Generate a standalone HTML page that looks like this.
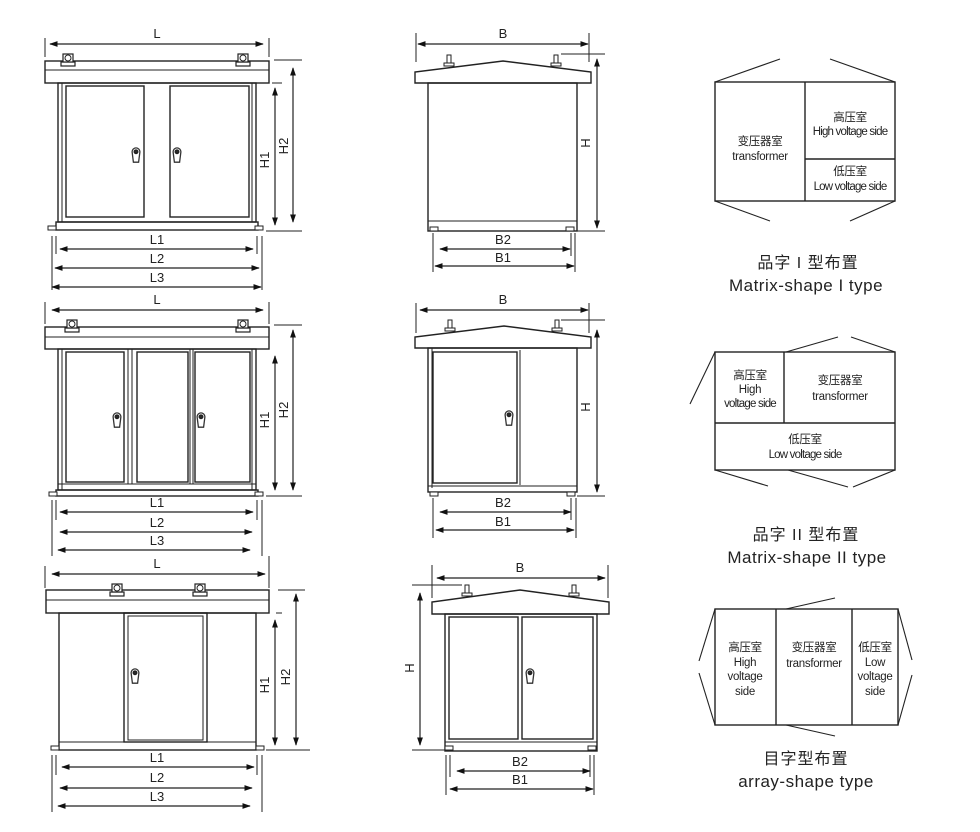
<!DOCTYPE html>
<html><head><meta charset="utf-8"><style>
html,body{margin:0;padding:0;background:#fff;}
svg{display:block;}
text{font-family:"Liberation Sans","Noto Sans CJK SC",sans-serif;fill:#222;}
</style></head><body>
<svg width="980" height="832" viewBox="0 0 980 832" xmlns="http://www.w3.org/2000/svg">
<defs>
<marker id="a" viewBox="0 0 10 10" refX="9" refY="5" markerWidth="7" markerHeight="7" orient="auto-start-reverse"><path d="M0,1.5 L10,5 L0,8.5z" fill="#111"/></marker>
<g id="lug"><rect x="-7" y="0" width="14" height="4" fill="#fff" stroke="#222" stroke-width="1.2"/><rect x="-5" y="-8" width="10" height="8" fill="#fff" stroke="#222" stroke-width="1.2"/><circle cx="0" cy="-4" r="3" fill="none" stroke="#222" stroke-width="1"/></g>
<g id="bolt"><rect x="-5" y="0" width="10" height="3" fill="#fff" stroke="#222" stroke-width="1"/><rect x="-2" y="-8" width="4" height="8" fill="#fff" stroke="#222" stroke-width="1"/></g>
<g id="hd"><g transform="scale(1.3)"><path d="M-3,-4 a3,3 0 1 1 6,0 l-1,8 l-4,0 z" fill="#fff" stroke="#333" stroke-width="1"/><circle cx="0" cy="-4" r="1.2" fill="#333"/></g></g>
<g id="foot"><rect x="-4" y="0" width="8" height="4" fill="#fff" stroke="#222" stroke-width="1"/></g>
</defs>
<g stroke="#222" stroke-width="1.4" fill="none">
<!-- ===== Row1 left ===== -->
<line x1="45" y1="38" x2="45" y2="57" stroke-width="1"/><line x1="269" y1="38" x2="269" y2="57" stroke-width="1"/>
<line x1="50" y1="44" x2="263" y2="44" marker-start="url(#a)" marker-end="url(#a)" stroke-width="1.2"/>
<rect x="45" y="61" width="224" height="22"/><line x1="45" y1="70" x2="269" y2="70" stroke-width="1"/>
<use href="#lug" x="68" y="62"/><use href="#lug" x="243" y="62"/>
<rect x="58" y="83" width="198" height="139"/><line x1="62" y1="83" x2="62" y2="222" stroke-width="1"/><line x1="252" y1="83" x2="252" y2="222" stroke-width="1"/>
<rect x="66" y="86" width="78" height="131"/><rect x="170" y="86" width="79" height="131"/>
<rect x="56" y="222" width="202" height="8"/>
<use href="#foot" x="52" y="226"/><use href="#foot" x="259" y="226"/>
<use href="#hd" x="136" y="157"/><use href="#hd" x="177" y="157"/>
<line x1="275" y1="88" x2="275" y2="225" marker-start="url(#a)" marker-end="url(#a)" stroke-width="1.2"/>
<line x1="293" y1="68" x2="293" y2="222" marker-start="url(#a)" marker-end="url(#a)" stroke-width="1.2"/>
<line x1="274" y1="60" x2="302" y2="60" stroke-width="1"/><line x1="272" y1="83" x2="282" y2="83" stroke-width="1"/><line x1="266" y1="231" x2="302" y2="231" stroke-width="1"/>
<line x1="52" y1="236" x2="52" y2="290" stroke-width="1"/><line x1="56" y1="236" x2="56" y2="254" stroke-width="1"/><line x1="257" y1="236" x2="257" y2="254" stroke-width="1"/><line x1="262" y1="236" x2="262" y2="290" stroke-width="1"/>
<line x1="60" y1="249" x2="253" y2="249" marker-start="url(#a)" marker-end="url(#a)" stroke-width="1.2"/>
<line x1="55" y1="268" x2="259" y2="268" marker-start="url(#a)" marker-end="url(#a)" stroke-width="1.2"/>
<line x1="52" y1="287" x2="261" y2="287" marker-start="url(#a)" marker-end="url(#a)" stroke-width="1.2"/>

<!-- ===== Row2 left ===== -->
<line x1="45" y1="302" x2="45" y2="324" stroke-width="1"/><line x1="269" y1="302" x2="269" y2="324" stroke-width="1"/>
<line x1="52" y1="310" x2="263" y2="310" marker-start="url(#a)" marker-end="url(#a)" stroke-width="1.2"/>
<rect x="45" y="327" width="224" height="22"/><line x1="45" y1="337" x2="269" y2="337" stroke-width="1"/>
<use href="#lug" x="72" y="328"/><use href="#lug" x="243" y="328"/>
<rect x="58" y="349" width="198" height="141"/><line x1="62" y1="349" x2="62" y2="490" stroke-width="1"/><line x1="252" y1="349" x2="252" y2="490" stroke-width="1"/>
<rect x="66" y="352" width="58" height="130"/><rect x="128" y="349" width="4" height="135" stroke-width="1"/><rect x="137" y="352" width="51" height="130"/><rect x="190" y="349" width="3" height="135" stroke-width="1"/><rect x="195" y="352" width="55" height="130"/>
<line x1="58" y1="484" x2="256" y2="484" stroke-width="1"/>
<rect x="56" y="490" width="202" height="6"/>
<use href="#foot" x="53" y="492"/><use href="#foot" x="259" y="492"/>
<use href="#hd" x="117" y="422"/><use href="#hd" x="201" y="422"/>
<line x1="275" y1="356" x2="275" y2="490" marker-start="url(#a)" marker-end="url(#a)" stroke-width="1.2"/>
<line x1="293" y1="330" x2="293" y2="490" marker-start="url(#a)" marker-end="url(#a)" stroke-width="1.2"/>
<line x1="274" y1="325" x2="302" y2="325" stroke-width="1"/><line x1="266" y1="496" x2="302" y2="496" stroke-width="1"/>
<line x1="52" y1="500" x2="52" y2="556" stroke-width="1"/><line x1="56" y1="500" x2="56" y2="520" stroke-width="1"/><line x1="257" y1="500" x2="257" y2="520" stroke-width="1"/><line x1="262" y1="500" x2="262" y2="556" stroke-width="1"/>
<line x1="60" y1="512" x2="253" y2="512" marker-start="url(#a)" marker-end="url(#a)" stroke-width="1.2"/>
<line x1="60" y1="532" x2="252" y2="532" marker-start="url(#a)" marker-end="url(#a)" stroke-width="1.2"/>
<line x1="58" y1="550" x2="250" y2="550" marker-start="url(#a)" marker-end="url(#a)" stroke-width="1.2"/>

<!-- ===== Row3 left ===== -->
<line x1="45" y1="566" x2="45" y2="588" stroke-width="1"/><line x1="269" y1="556" x2="269" y2="588" stroke-width="1"/>
<line x1="52" y1="574" x2="265" y2="574" marker-start="url(#a)" marker-end="url(#a)" stroke-width="1.2"/>
<rect x="46" y="590" width="223" height="23"/><line x1="46" y1="600" x2="269" y2="600" stroke-width="1"/>
<use href="#lug" x="117" y="592"/><use href="#lug" x="200" y="592"/>
<rect x="59" y="613" width="197" height="137"/>
<rect x="124" y="613" width="83" height="129"/><rect x="128" y="616" width="75" height="124" stroke-width="1"/>
<line x1="59" y1="742" x2="256" y2="742" stroke-width="1"/>
<use href="#foot" x="55" y="746"/><use href="#foot" x="260" y="746"/>
<use href="#hd" x="135" y="678"/>
<line x1="275" y1="620" x2="275" y2="745" marker-start="url(#a)" marker-end="url(#a)" stroke-width="1.2"/>
<line x1="296" y1="594" x2="296" y2="745" marker-start="url(#a)" marker-end="url(#a)" stroke-width="1.2"/>
<line x1="278" y1="590" x2="305" y2="590" stroke-width="1"/><line x1="276" y1="613" x2="282" y2="613" stroke-width="1"/><line x1="266" y1="750" x2="310" y2="750" stroke-width="1"/>
<line x1="52" y1="755" x2="52" y2="812" stroke-width="1"/><line x1="56" y1="755" x2="56" y2="775" stroke-width="1"/><line x1="257" y1="755" x2="257" y2="775" stroke-width="1"/><line x1="262" y1="755" x2="262" y2="812" stroke-width="1"/>
<line x1="62" y1="767" x2="254" y2="767" marker-start="url(#a)" marker-end="url(#a)" stroke-width="1.2"/>
<line x1="60" y1="788" x2="252" y2="788" marker-start="url(#a)" marker-end="url(#a)" stroke-width="1.2"/>
<line x1="58" y1="806" x2="250" y2="806" marker-start="url(#a)" marker-end="url(#a)" stroke-width="1.2"/>

<!-- ===== Row1 middle ===== -->
<line x1="416" y1="33" x2="416" y2="62" stroke-width="1"/><line x1="589" y1="33" x2="589" y2="62" stroke-width="1"/>
<line x1="418" y1="44" x2="588" y2="44" marker-start="url(#a)" marker-end="url(#a)" stroke-width="1.2"/>
<path d="M415,83 L415,72 L503,61 L591,72 L591,83 Z"/>
<use href="#bolt" x="449" y="63"/><use href="#bolt" x="556" y="63"/>
<rect x="428" y="83" width="149" height="148"/><line x1="428" y1="221" x2="577" y2="221" stroke-width="1"/>
<use href="#foot" x="434" y="227"/><use href="#foot" x="570" y="227"/>
<line x1="561" y1="54" x2="605" y2="54" stroke-width="1"/><line x1="577" y1="231" x2="605" y2="231" stroke-width="1"/>
<line x1="597" y1="59" x2="597" y2="228" marker-start="url(#a)" marker-end="url(#a)" stroke-width="1.2"/>
<line x1="433" y1="233" x2="433" y2="272" stroke-width="1"/><line x1="575" y1="233" x2="575" y2="272" stroke-width="1"/><line x1="571" y1="233" x2="571" y2="256" stroke-width="1"/>
<line x1="440" y1="249" x2="570" y2="249" marker-start="url(#a)" marker-end="url(#a)" stroke-width="1.2"/>
<line x1="435" y1="266" x2="574" y2="266" marker-start="url(#a)" marker-end="url(#a)" stroke-width="1.2"/>

<!-- ===== Row2 middle ===== -->
<line x1="416" y1="303" x2="416" y2="333" stroke-width="1"/><line x1="589" y1="303" x2="589" y2="333" stroke-width="1"/>
<line x1="420" y1="310" x2="588" y2="310" marker-start="url(#a)" marker-end="url(#a)" stroke-width="1.2"/>
<path d="M415,348 L415,337 L504,326 L591,337 L591,348 Z"/>
<use href="#bolt" x="450" y="328"/><use href="#bolt" x="557" y="328"/>
<rect x="428" y="348" width="149" height="144"/><line x1="432" y1="348" x2="432" y2="488" stroke-width="1"/>
<rect x="433" y="352" width="84" height="131"/><line x1="520" y1="350" x2="520" y2="485" stroke-width="1"/>
<line x1="428" y1="486" x2="577" y2="486" stroke-width="1"/>
<use href="#foot" x="434" y="492"/><use href="#foot" x="571" y="492"/>
<use href="#hd" x="509" y="420"/>
<line x1="561" y1="320" x2="605" y2="320" stroke-width="1"/><line x1="577" y1="496" x2="605" y2="496" stroke-width="1"/>
<line x1="597" y1="330" x2="597" y2="492" marker-start="url(#a)" marker-end="url(#a)" stroke-width="1.2"/>
<line x1="433" y1="498" x2="433" y2="538" stroke-width="1"/><line x1="576" y1="498" x2="576" y2="538" stroke-width="1"/><line x1="571" y1="498" x2="571" y2="520" stroke-width="1"/>
<line x1="440" y1="512" x2="571" y2="512" marker-start="url(#a)" marker-end="url(#a)" stroke-width="1.2"/>
<line x1="436" y1="530" x2="574" y2="530" marker-start="url(#a)" marker-end="url(#a)" stroke-width="1.2"/>

<!-- ===== Row3 middle ===== -->
<line x1="432" y1="565" x2="432" y2="598" stroke-width="1"/><line x1="608" y1="565" x2="608" y2="598" stroke-width="1"/>
<line x1="437" y1="578" x2="605" y2="578" marker-start="url(#a)" marker-end="url(#a)" stroke-width="1.2"/>
<path d="M432,614 L432,602 L520,590 L609,602 L609,614 Z"/>
<use href="#bolt" x="467" y="593"/><use href="#bolt" x="574" y="593"/>
<rect x="445" y="614" width="152" height="137"/>
<rect x="449" y="617" width="69" height="122"/><rect x="522" y="617" width="71" height="122"/>
<line x1="445" y1="742" x2="597" y2="742" stroke-width="1"/>
<use href="#foot" x="449" y="746"/><use href="#foot" x="592" y="746"/>
<use href="#hd" x="530" y="678"/>
<line x1="412" y1="585" x2="462" y2="585" stroke-width="1"/><line x1="412" y1="750" x2="445" y2="750" stroke-width="1"/>
<line x1="420" y1="593" x2="420" y2="745" marker-start="url(#a)" marker-end="url(#a)" stroke-width="1.2"/>
<line x1="446" y1="755" x2="446" y2="795" stroke-width="1"/><line x1="594" y1="755" x2="594" y2="795" stroke-width="1"/><line x1="450" y1="755" x2="450" y2="777" stroke-width="1"/><line x1="590" y1="755" x2="590" y2="777" stroke-width="1"/>
<line x1="457" y1="771" x2="590" y2="771" marker-start="url(#a)" marker-end="url(#a)" stroke-width="1.2"/>
<line x1="450" y1="789" x2="593" y2="789" marker-start="url(#a)" marker-end="url(#a)" stroke-width="1.2"/>

<!-- ===== Right diagrams ===== -->
<rect x="715" y="82" width="180" height="119"/><line x1="805" y1="82" x2="805" y2="201"/><line x1="805" y1="159" x2="895" y2="159"/>
<line x1="715" y1="82" x2="780" y2="59" stroke-width="1.1"/><line x1="895" y1="82" x2="830" y2="59" stroke-width="1.1"/>
<line x1="715" y1="201" x2="770" y2="221" stroke-width="1.1"/><line x1="895" y1="201" x2="850" y2="221" stroke-width="1.1"/>

<rect x="715" y="352" width="180" height="118"/><line x1="784" y1="352" x2="784" y2="423"/><line x1="715" y1="423" x2="895" y2="423"/>
<line x1="715" y1="352" x2="690" y2="404" stroke-width="1.1"/>
<line x1="786" y1="352" x2="838" y2="337" stroke-width="1.1"/><line x1="851" y1="337" x2="895" y2="352" stroke-width="1.1"/>
<line x1="715" y1="470" x2="768" y2="486" stroke-width="1.1"/><line x1="788" y1="470" x2="848" y2="487" stroke-width="1.1"/><line x1="853" y1="487" x2="895" y2="470" stroke-width="1.1"/>

<rect x="715" y="609" width="183" height="116"/><line x1="776" y1="609" x2="776" y2="725"/><line x1="852" y1="609" x2="852" y2="725"/>
<line x1="715" y1="609" x2="699" y2="661" stroke-width="1.1"/><line x1="699" y1="673" x2="715" y2="725" stroke-width="1.1"/>
<line x1="898" y1="609" x2="912" y2="660" stroke-width="1.1"/><line x1="912" y1="675" x2="898" y2="725" stroke-width="1.1"/>
<line x1="786" y1="609" x2="835" y2="598" stroke-width="1.1"/><line x1="786" y1="725" x2="835" y2="736" stroke-width="1.1"/>
</g>

<!-- labels -->
<g font-size="13" text-anchor="middle">
<text x="157" y="38">L</text><text x="157" y="244">L1</text><text x="157" y="263">L2</text><text x="157" y="282">L3</text>
<text transform="translate(269,160) rotate(-90)">H1</text><text transform="translate(288,146) rotate(-90)">H2</text>
<text x="157" y="304">L</text><text x="157" y="507">L1</text><text x="157" y="527">L2</text><text x="157" y="545">L3</text>
<text transform="translate(269,420) rotate(-90)">H1</text><text transform="translate(288,410) rotate(-90)">H2</text>
<text x="157" y="568">L</text><text x="157" y="762">L1</text><text x="157" y="782">L2</text><text x="157" y="801">L3</text>
<text transform="translate(269,685) rotate(-90)">H1</text><text transform="translate(290,677) rotate(-90)">H2</text>
<text x="503" y="38">B</text><text x="503" y="244">B2</text><text x="503" y="262">B1</text>
<text transform="translate(590,143) rotate(-90)">H</text>
<text x="503" y="304">B</text><text x="503" y="507">B2</text><text x="503" y="526">B1</text>
<text transform="translate(590,407) rotate(-90)">H</text>
<text x="520" y="572">B</text><text x="520" y="766">B2</text><text x="520" y="784">B1</text>
<text transform="translate(414,668) rotate(-90)">H</text>
</g>
<g font-size="11.5" text-anchor="middle" letter-spacing="-0.3">
<text x="760" y="145">变压器室</text><text x="760" y="160">transformer</text>
<text x="850" y="121">高压室</text><text x="850" y="135" letter-spacing="-0.8">High voltage side</text>
<text x="850" y="175">低压室</text><text x="850" y="190" letter-spacing="-0.8">Low voltage side</text>
<text x="750" y="379">高压室</text><text x="750" y="393">High</text><text x="750" y="407" letter-spacing="-0.8">voltage side</text>
<text x="840" y="384">变压器室</text><text x="840" y="400">transformer</text>
<text x="805" y="443">低压室</text><text x="805" y="458" letter-spacing="-0.8">Low voltage side</text>
<text x="745" y="651">高压室</text><text x="745" y="666">High</text><text x="745" y="680">voltage</text><text x="745" y="695">side</text>
<text x="814" y="651">变压器室</text><text x="814" y="667">transformer</text>
<text x="875" y="651">低压室</text><text x="875" y="666">Low</text><text x="875" y="680">voltage</text><text x="875" y="695">side</text>
</g>
<g text-anchor="middle" fill="#222">
<text x="808" y="268" font-size="16" letter-spacing="1">品字 I 型布置</text>
<text x="806" y="291" font-size="17" letter-spacing="0.5">Matrix-shape I type</text>
<text x="806" y="540" font-size="16" letter-spacing="1">品字 II 型布置</text>
<text x="807" y="563" font-size="17" letter-spacing="0.5">Matrix-shape II type</text>
<text x="806" y="764" font-size="16" letter-spacing="1">目字型布置</text>
<text x="806" y="787" font-size="17" letter-spacing="0.5">array-shape type</text>
</g>
</svg>
</body></html>
